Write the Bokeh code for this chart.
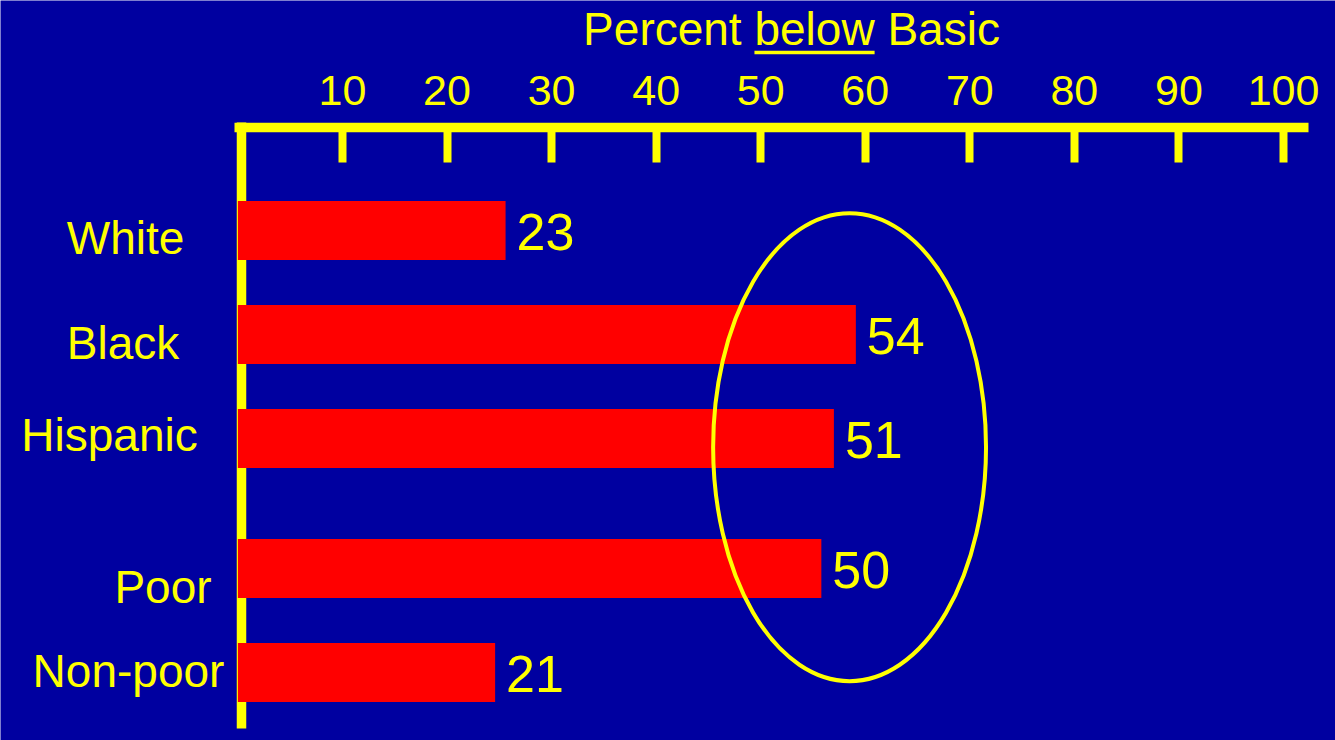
from bokeh.plotting import figure
from bokeh.models import Range1d, FixedTicker, ColumnDataSource
from bokeh.embed import file_html
from bokeh.resources import INLINE
from bokeh.core.properties import value

# ---------------- data ----------------
categories = ["White", "Black", "Hispanic", "Poor", "Non-poor"]
groups = ["race", "race", "race", "income", "income"]
percent_below_basic = [23, 54, 51, 50, 21]          # printed values
bar_extent = [25.6, 59.1, 57.0, 55.8, 24.6]         # bar lengths as drawn on the axis scale
tick_values = [10, 20, 30, 40, 50, 60, 70, 80, 90, 100]
axis_title_parts = ["Percent ", "below", " Basic"]  # middle part underlined
highlighted = ["Black", "Hispanic", "Poor"]

# ---------------- style / layout ----------------
BG = "#0000A0"
YELLOW = "#FFFF00"
RED = "#FF0000"
FONT = "Liberation Sans"

W, H = 1335, 740
ZERO_PX = 237.4          # screen x of value 0
AXIS_PX = 127            # screen y of the top axis line
VAXIS_PX = 241           # screen x of the vertical axis line
PX_PER_PCT = 10.456
PX_PER_ROW = 104.0
ROW0_PX = 230.0
GROUP_GAP = 0.25
BAR_H = 0.567
BASELINE_FIX = 0.35      # text glyph baseline correction (em)

label_center_px = [125, 122.5, 109, 162.5, 128]
label_baseline_px = [24, 25, 13, 35, 15]
value_baseline_px = 20
CAT_SIZE = 46
VAL_SIZE = 52


def px_x(px):
    return (px - ZERO_PX) / PX_PER_PCT


def px_y(px):
    return (px - ROW0_PX) / PX_PER_ROW


pos = []
yy = 0.0
for i, g in enumerate(groups):
    if i > 0:
        yy += 1.0 + (GROUP_GAP if g != groups[i - 1] else 0.0)
    pos.append(yy)

p = figure(width=W, height=H, x_range=Range1d(px_x(0), px_x(W)), y_range=Range1d(px_y(H), px_y(0)),
           x_axis_location="above", title=None, toolbar_location=None, output_backend="svg",
           min_border=0, background_fill_color=BG, border_fill_color=BG, outline_line_color=None)
p.grid.visible = False

xa = p.xaxis[0]
xa.fixed_location = px_y(AXIS_PX)
xa.ticker = FixedTicker(ticks=tick_values)
xa.bounds = (-0.3, 102.4)
xa.axis_line_color = YELLOW
xa.axis_line_width = 9.5
xa.major_tick_line_color = YELLOW
xa.major_tick_line_width = 8
xa.major_tick_in = 35
xa.major_tick_out = 0
xa.minor_tick_line_color = None
xa.major_label_text_color = YELLOW
xa.major_label_text_font = FONT
xa.major_label_text_font_size = "43px"
xa.major_label_standoff = 23

ya = p.yaxis[0]
ya.fixed_location = px_x(VAXIS_PX)
ya.ticker = FixedTicker(ticks=[])
ya.major_label_text_font_size = "0px"
ya.major_tick_line_color = None
ya.minor_tick_line_color = None
ya.axis_line_color = YELLOW
ya.axis_line_width = 9.5
ya.bounds = (px_y(122), px_y(728))

src = ColumnDataSource(dict(
    cat=categories,
    pos=pos,
    extent=bar_extent,
    label=[str(v) for v in percent_below_basic],
    label_y=[q + (value_baseline_px - BASELINE_FIX * VAL_SIZE) / PX_PER_ROW for q in pos],
    cat_x=[px_x(c) for c in label_center_px],
    cat_y=[q + (b - BASELINE_FIX * CAT_SIZE) / PX_PER_ROW for q, b in zip(pos, label_baseline_px)],
))

p.hbar(y="pos", left=0, right="extent", height=BAR_H, source=src,
       fill_color=RED, line_color=None, level="annotation")

p.text(x="extent", y="label_y", text="label", source=src, x_offset=11,
       text_font=value(FONT), text_font_size=f"{VAL_SIZE}px", text_color=YELLOW,
       text_align="left", text_baseline="alphabetic")

p.text(x="cat_x", y="cat_y", text="cat", source=src,
       text_font=value(FONT), text_font_size=f"{CAT_SIZE}px", text_color=YELLOW,
       text_align="center", text_baseline="alphabetic")

# highlight ellipse around the highlighted groups
hi = [categories.index(c) for c in highlighted]
ecx = max(bar_extent[i] for i in hi) - 0.6
ecy = sum(pos[i] for i in hi) / len(hi)
p.ellipse(x=[ecx], y=[ecy], width=26.1, height=4.5, fill_color=None,
          line_color=YELLOW, line_width=4, level="annotation")

# axis title with underlined word
TITLE_SIZE = 46
TITLE_CX = 791
TITLE_BASE = 45
adv = {"P": 667, "e": 556, "r": 333, "c": 500, "n": 556, "t": 278, " ": 278, "b": 556,
       "l": 222, "o": 556, "w": 722, "B": 667, "a": 556, "s": 500, "i": 222}


def text_w(s):
    return sum(adv.get(ch, 556) for ch in s) / 1000.0 * TITLE_SIZE


full_title = "".join(axis_title_parts)
p.text(x=[px_x(TITLE_CX)], y=[px_y(TITLE_BASE - BASELINE_FIX * TITLE_SIZE)], text=[full_title],
       text_font=value(FONT), text_font_size=f"{TITLE_SIZE}px", text_color=YELLOW,
       text_align="center", text_baseline="alphabetic")
t_left = TITLE_CX - text_w(full_title) / 2
u0 = t_left + text_w(axis_title_parts[0])
u1 = u0 + text_w(axis_title_parts[1])
p.segment(x0=[px_x(u0)], y0=[px_y(TITLE_BASE + 7)], x1=[px_x(u1)], y1=[px_y(TITLE_BASE + 7)],
          line_color=YELLOW, line_width=3.5)

open("out.html", "w").write(file_html(p, INLINE))
